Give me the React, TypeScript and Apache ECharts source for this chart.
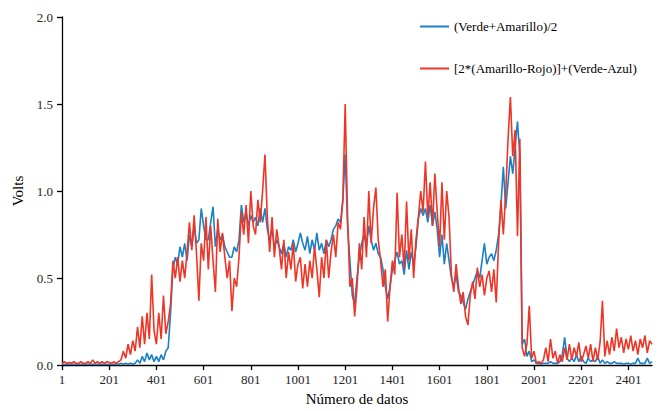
import React, { useEffect, useRef } from "react";
import * as echarts from "echarts";

// Sample positions: data point number = X_START + k * X_STEP
const X_START = 1;
const X_STEP = 10;
const X_MIN = 1;
const X_MAX = 2501;
const X_TICK_LABELS = [1, 201, 401, 601, 801, 1001, 1201, 1401, 1601, 1801, 2001, 2201, 2401];
const Y_MIN = 0;
const Y_MAX = 2;
const Y_STEP = 0.5;

const SERIES_NAMES = ["(Verde+Amarillo)/2", "[2*(Amarillo-Rojo)]+(Verde-Azul)"];

// (Verde+Amarillo)/2, volts (251 samples)
const BLUE = [
  0.005, 0.005, 0.005, 0.005, 0.005, 0.005, 0.005, 0.005, 0.005, 0.005,
  0.005, 0.005, 0.005, 0.005, 0.005, 0.005, 0.005, 0.005, 0.005, 0.005,
  0.005, 0.005, 0.005, 0.005, 0.005, 0.01, 0.005, 0.01, 0.005, 0.01, 0.005,
  0.01, 0.03, 0.01, 0.05, 0.02, 0.07, 0.03, 0.06, 0.02, 0.05,
  0.02, 0.06, 0.03, 0.08, 0.1, 0.3, 0.55, 0.62, 0.58, 0.68,
  0.62, 0.7, 0.6, 0.75, 0.68, 0.8, 0.7, 0.72, 0.9, 0.8, 0.72,
  0.72, 0.82, 0.91, 0.68, 0.78, 0.72, 0.75, 0.68, 0.65, 0.62,
  0.62, 0.68, 0.65, 0.72, 0.92, 0.82, 0.88, 0.8, 0.86, 0.82,
  0.85, 0.8, 0.9, 0.82, 0.9, 0.78, 0.72, 0.78, 0.68, 0.72,
  0.68, 0.64, 0.7, 0.62, 0.68, 0.66, 0.72, 0.65, 0.7, 0.76, 0.7,
  0.66, 0.74, 0.64, 0.72, 0.66, 0.76, 0.66, 0.7, 0.64, 0.72,
  0.68, 0.72, 0.78, 0.8, 0.84, 0.82, 0.95, 1.21, 0.8, 0.6,
  0.4, 0.35, 0.5, 0.62, 0.7, 0.75, 0.68, 0.8, 0.72, 0.66,
  0.7, 0.64, 0.62, 0.55, 0.45, 0.38, 0.45, 0.55, 0.6, 0.65, 0.58,
  0.6, 0.52, 0.66, 0.55, 0.65, 0.58, 0.68, 0.84, 0.9, 0.86,
  0.9, 0.82, 0.92, 0.8, 0.88, 0.78, 0.62, 0.75, 0.58, 0.7,
  0.6, 0.5, 0.45, 0.52, 0.42, 0.4, 0.36, 0.32, 0.38, 0.42,
  0.46, 0.5, 0.54, 0.5, 0.6, 0.7, 0.58, 0.62, 0.64, 0.6, 0.66,
  0.75, 0.92, 1.14, 0.9, 1.05, 1.2, 1.1, 1.25, 1.4, 1.2,
  0.12, 0.15, 0.05, 0.08, 0.02, 0.03, 0.01, 0.01, 0.005, 0.01,
  0.01, 0.01, 0.02, 0.01, 0.01, 0.01, 0.02, 0.06, 0.16, 0.04,
  0.02, 0.04, 0.02, 0.06, 0.02, 0.05, 0.02, 0.01, 0.04, 0.02, 0.03,
  0.02, 0.05, 0.01, 0.03, 0.01, 0.02, 0.01, 0.01, 0.02, 0.01,
  0.01, 0.01, 0.005, 0.01, 0.01, 0.005, 0.01, 0.01, 0.04, 0.01,
  0.01, 0.01, 0.04, 0.01, 0.02,
];

// [2*(Amarillo-Rojo)]+(Verde-Azul), volts (251 samples)
const RED = [
  0.01, 0.02, 0.01, 0.015, 0.01, 0.02, 0.01, 0.01, 0.02, 0.01,
  0.01, 0.02, 0.01, 0.03, 0.01, 0.02, 0.01, 0.02, 0.01, 0.02,
  0.015, 0.01, 0.02, 0.01, 0.02, 0.03, 0.08, 0.04, 0.12, 0.06, 0.14,
  0.08, 0.22, 0.1, 0.28, 0.12, 0.3, 0.15, 0.52, 0.2, 0.12,
  0.3, 0.15, 0.4, 0.18, 0.25, 0.35, 0.6, 0.5, 0.62, 0.48,
  0.6, 0.5, 0.65, 0.82, 0.66, 0.86, 0.64, 0.37, 0.7, 0.6, 0.85,
  0.55, 0.8, 0.6, 0.42, 0.84, 0.65, 0.76, 0.62, 0.5, 0.6,
  0.31, 0.5, 0.45, 0.62, 0.88, 0.75, 0.92, 0.7, 1.0, 0.8,
  0.75, 0.95, 0.82, 1.0, 1.21, 0.85, 0.65, 0.85, 0.62, 0.78,
  0.68, 0.55, 0.72, 0.5, 0.65, 0.55, 0.7, 0.48, 0.58, 0.62, 0.44,
  0.58, 0.45, 0.6, 0.5, 0.68, 0.55, 0.39, 0.62, 0.5, 0.72,
  0.5, 0.65, 0.75, 0.62, 0.82, 0.78, 0.95, 1.5, 0.85, 0.45,
  0.5, 0.28, 0.45, 0.7, 0.55, 0.85, 0.62, 1.0, 0.7, 0.9,
  1.02, 0.72, 0.6, 0.45, 0.55, 0.25, 0.45, 0.6, 0.52, 0.99, 0.62,
  0.75, 0.55, 0.94, 0.6, 0.78, 0.5, 0.72, 0.85, 1.0, 0.88,
  1.17, 0.85, 1.05, 0.8, 1.1, 0.88, 0.68, 1.05, 0.72, 1.0,
  0.85, 0.52, 0.42, 0.58, 0.45, 0.35, 0.42, 0.28, 0.23, 0.4,
  0.48, 0.38, 0.56, 0.45, 0.52, 0.4, 0.5, 0.54, 0.42, 0.55, 0.36,
  0.7, 0.95, 0.75, 0.98, 1.3, 1.54, 1.2, 1.35, 0.74, 1.3,
  0.1, 0.05, 0.12, 0.34, 0.04, 0.08, 0.01, 0.02, 0.01, 0.03,
  0.1, 0.02, 0.15, 0.04, 0.08, 0.01, 0.06, 0.02, 0.1, 0.03,
  0.12, 0.03, 0.1, 0.05, 0.13, 0.02, 0.06, 0.11, 0.04, 0.12, 0.02,
  0.1, 0.03, 0.13, 0.37, 0.05, 0.14, 0.06, 0.16, 0.08, 0.21,
  0.1, 0.16, 0.07, 0.15, 0.09, 0.17, 0.08, 0.14, 0.06, 0.15,
  0.1, 0.17, 0.07, 0.14, 0.12,
];

const BLUE_COLOR = "#1b80c6";
const RED_COLOR = "#ee3526";
const FONT = "Liberation Serif";

const toPairs = (vals: number[]) => vals.map((v, k) => [X_START + k * X_STEP, v]);

export default function App() {
  const ref = useRef<HTMLDivElement>(null);

  useEffect(() => {
    if (!ref.current) return;
    const chart = echarts.init(ref.current, null, { renderer: "svg" });
    const axisLineStyle = { color: "#000", width: 1.3 };
    chart.setOption({
      animation: false,
      backgroundColor: "#fff",
      textStyle: { fontFamily: FONT },
      grid: { left: 62, right: 9, top: 17, bottom: 44, containLabel: false },
      legend: {
        orient: "vertical",
        left: 420,
        top: 20,
        padding: 0,
        itemWidth: 29,
        itemHeight: 2,
        itemGap: 29,
        icon: "rect",
        data: SERIES_NAMES,
        textStyle: { fontFamily: FONT, fontSize: 13, color: "#000" },
      },
      xAxis: {
        type: "value",
        min: X_MIN,
        max: X_MAX,
        name: "Número de datos",
        nameLocation: "middle",
        nameGap: 24,
        nameTextStyle: { fontFamily: FONT, fontSize: 15, color: "#000" },
        splitLine: { show: false },
        axisLine: { show: true, onZero: false, lineStyle: axisLineStyle },
        axisTick: { show: true, length: 5, customValues: X_TICK_LABELS, lineStyle: axisLineStyle },
        axisLabel: {
          customValues: X_TICK_LABELS,
          margin: 8,
          fontFamily: FONT,
          fontSize: 13,
          color: "#262626",
          formatter: (v: number) => String(Math.round(v)),
        },
      },
      yAxis: {
        type: "value",
        min: Y_MIN,
        max: Y_MAX,
        interval: Y_STEP,
        name: "Volts",
        nameLocation: "middle",
        nameGap: 28,
        nameTextStyle: { fontFamily: FONT, fontSize: 15, color: "#000" },
        splitLine: { show: false },
        axisLine: { show: true, lineStyle: axisLineStyle },
        axisTick: { show: true, length: 5, lineStyle: axisLineStyle },
        axisLabel: {
          margin: 9,
          fontFamily: FONT,
          fontSize: 13,
          color: "#262626",
          formatter: (v: number) => v.toFixed(1),
        },
      },
      series: [
        {
          name: SERIES_NAMES[0],
          type: "line",
          data: toPairs(BLUE),
          symbol: "none",
          showSymbol: false,
          color: BLUE_COLOR,
          lineStyle: { width: 1.6, color: BLUE_COLOR },
          itemStyle: { color: BLUE_COLOR },
        },
        {
          name: SERIES_NAMES[1],
          type: "line",
          data: toPairs(RED),
          symbol: "none",
          showSymbol: false,
          color: RED_COLOR,
          lineStyle: { width: 1.6, color: RED_COLOR },
          itemStyle: { color: RED_COLOR },
        },
      ],
    });
    return () => chart.dispose();
  }, []);

  return (
    <div
      ref={ref}
      style={{ position: "fixed", left: 0, top: 0, width: 661, height: 411, background: "#fff" }}
    />
  );
}
